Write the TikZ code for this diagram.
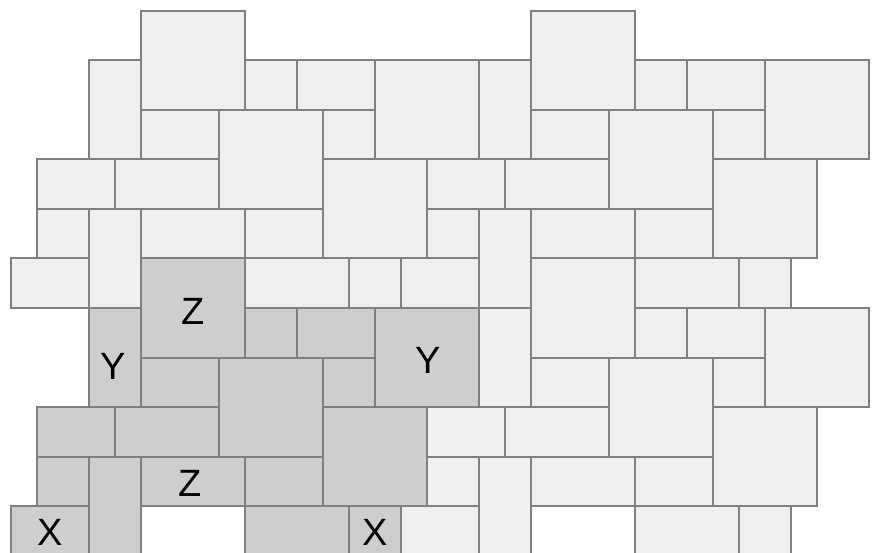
\documentclass[tikz,border=0pt]{standalone}
\usepackage{fontspec}
\setmainfont{Liberation Sans}
\definecolor{tileline}{RGB}{128,128,128}
\definecolor{tilelight}{RGB}{239,239,239}
\definecolor{tiledark}{RGB}{206,206,206}
\newcommand\tl[5]{\draw[#5] ({11+26*#1},{11+49.5*#2}) rectangle ({11+26*(#1+#3)},{11+49.5*(#2+#4)});}
\begin{document}
\begin{tikzpicture}[x=1pt,y=-1pt,
  light/.style={draw=tileline,fill=tilelight,line width=2pt,line join=miter},
  dark/.style={draw=tileline,fill=tiledark,line width=2pt,line join=miter},
  lbl/.style={inner sep=0pt,font=\fontsize{38}{40}\selectfont,text=black}]
\useasboundingbox (0,0) rectangle (872,553);
\clip (0,0) rectangle (872,553);
% light tiles
\foreach \a/\b/\c/\d in {5/0/4/2, 20/0/4/2,
  3/1/2/2, 9/1/2/1, 11/1/3/1, 14/1/4/2, 18/1/2/2, 24/1/2/1, 26/1/3/1, 29/1/4/2,
  5/2/3/1, 8/2/4/2, 12/2/2/1, 20/2/3/1, 23/2/4/2, 27/2/2/1,
  1/3/3/1, 4/3/4/1, 12/3/4/2, 16/3/3/1, 19/3/4/1, 27/3/4/2,
  1/4/2/1, 3/4/2/2, 5/4/4/1, 9/4/3/1, 16/4/2/1, 18/4/2/2, 20/4/4/1, 24/4/3/1,
  0/5/3/1, 9/5/4/1, 13/5/2/1, 15/5/3/1, 20/5/4/2, 24/5/4/1, 28/5/2/1,
  18/6/2/2, 24/6/2/1, 26/6/3/1, 29/6/4/2,
  20/7/3/1, 23/7/4/2, 27/7/2/1,
  16/8/3/1, 19/8/4/1, 27/8/4/2,
  16/9/2/1, 18/9/2/2, 20/9/4/1, 24/9/3/1,
  15/10/3/1, 24/10/4/1, 28/10/2/1}
  {\tl{\a}{\b}{\c}{\d}{light}}
% shaded tiles
\foreach \a/\b/\c/\d in {5/5/4/2, 3/6/2/2, 9/6/2/1, 11/6/3/1, 14/6/4/2,
  5/7/3/1, 8/7/4/2, 12/7/2/1,
  1/8/3/1, 4/8/4/1, 12/8/4/2,
  1/9/2/1, 3/9/2/2, 5/9/4/1, 9/9/3/1,
  0/10/3/1, 9/10/4/1, 13/10/2/1}
  {\tl{\a}{\b}{\c}{\d}{dark}}
% labels
\node[lbl] (z1) at (193,311) {Z};
\node[lbl] (y1) at (113,366) {Y};
\node[lbl] (y2) at (428,360) {Y};
\node[lbl] (z2) at (190.5,483) {Z};
\node[lbl] (x1) at (50.5,532.5) {X};
\node[lbl] (x2) at (375.5,532.5) {X};
\end{tikzpicture}
\end{document}
